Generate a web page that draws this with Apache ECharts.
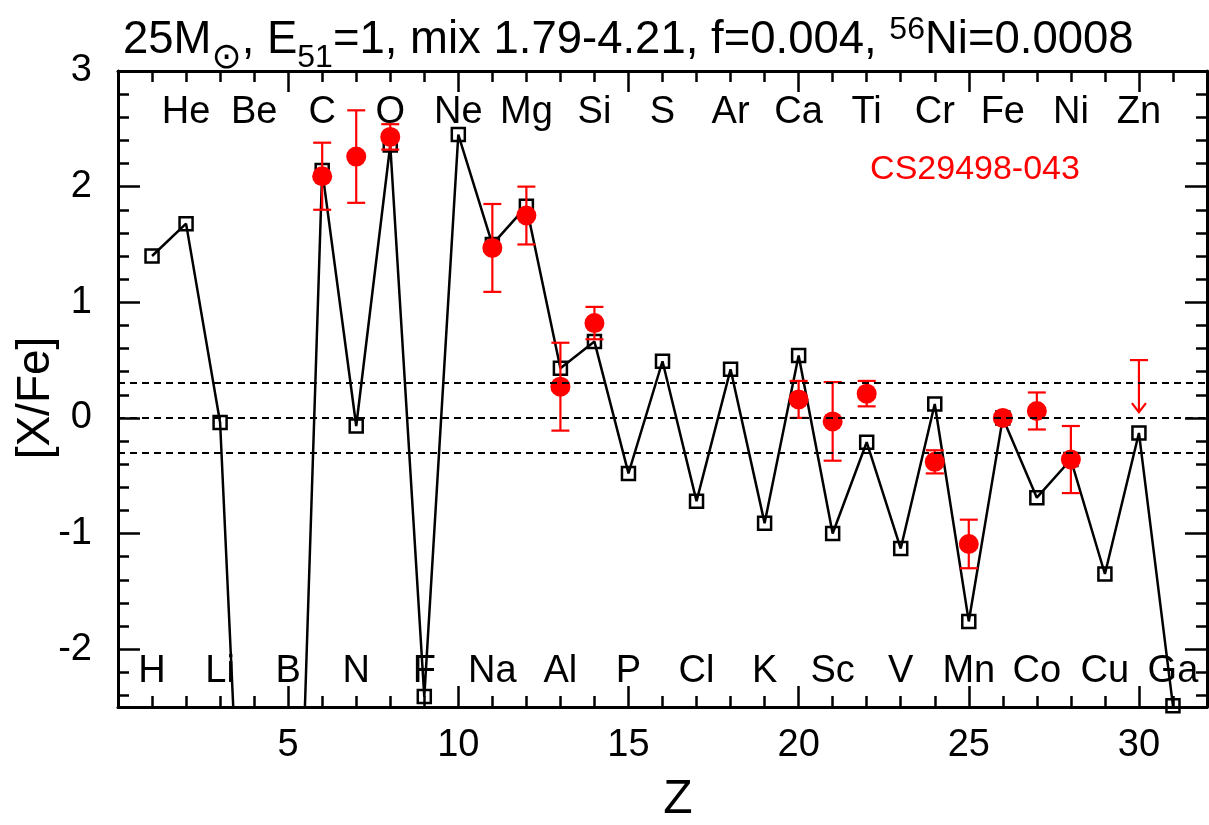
<!DOCTYPE html>
<html>
<head>
<meta charset="utf-8">
<script src="https://cdn.jsdelivr.net/npm/echarts@6/dist/echarts.min.js"></script>
<style>
html,body{margin:0;padding:0;background:#fff;}
#chart{width:1209px;height:825px;}
</style>
</head>
<body>
<div id="chart"></div>
<script>
// ---------- data ----------
const elements = ['H','He','Li','Be','B','C','N','O','F','Ne','Na','Mg','Al','Si','P','S','Cl','Ar','K','Ca','Sc','Ti','V','Cr','Mn','Fe','Co','Ni','Cu','Zn','Ga'];
const modelZ = [1,2,3,4,5,6,7,8,9,10,11,12,13,14,15,16,17,18,19,20,21,22,23,24,25,26,27,28,29,30,31];
const modelXFe = [1.40,1.68,-0.04,-6.4,-7.0,2.14,-0.07,2.36,-2.41,2.45,1.50,1.83,0.43,0.66,-0.48,0.49,-0.72,0.42,-0.91,0.54,-1.00,-0.21,-1.13,0.12,-1.76,0.00,-0.69,-0.36,-1.35,-0.13,-2.49];

const obsZ   = [6,7,8,11,12,13,14,20,21,22,24,25,26,27,28];
const obsXFe = [2.09,2.26,2.43,1.47,1.75,0.27,0.82,0.16,-0.03,0.21,-0.38,-1.09,0.00,0.06,-0.36];
const obsErr = [0.29,0.40,0.11,0.38,0.25,0.38,0.14,0.16,0.34,0.11,0.10,0.21,0.00,0.16,0.29];

const limitZ = [30];
const limitXFe = [0.50];
const limitArrowTo = [0.05];

const dashLevels = [0.3, 0, -0.3];

const xTickLabels = [5,10,15,20,25,30];
const yTickLabels = [-2,-1,0,1,2,3];

const starName = 'CS29498-043';

// ---------- build ----------
const FONT = '"Liberation Sans", Arial, Helvetica, sans-serif';
const xMajor = [0,5,10,15,20,25,30];
const xMinor = []; for (let i = 1; i < 32; i++) if (i % 5) xMinor.push(i);
const yMinor = []; for (let i = -12; i <= 15; i++) if (i % 5) yMinor.push(+(i*0.2).toFixed(1));

const modelData = modelZ.map((z,i)=>[z, modelXFe[i]]);
const obsData = obsZ.map((z,i)=>[z, obsXFe[i]]);
const errData = obsZ.map((z,i)=>[z, obsXFe[i]-obsErr[i], obsXFe[i]+obsErr[i]]).filter((d,i)=>obsErr[i]>0);
const limData = limitZ.map((z,i)=>[z, limitArrowTo[i], limitXFe[i]]);

const LABEL_TOP_Y = 2.645, LABEL_BOT_Y = -2.196;
const elemData = elements.map((e,i)=>({name:e, value:[i+1, (i+1)%2===0 ? LABEL_TOP_Y : LABEL_BOT_Y]}));

function xAx(pos, major, withLabel, withLine){
  return {
    type:'value', position:pos, min:0, max:32,
    axisLine:{show:withLine, onZero:false, lineStyle:{color:'#000', width:3}},
    axisTick:{show:true, inside:true, length: major?21:11, lineStyle:{color:'#000', width:2.5}, customValues: major? xMajor : xMinor},
    axisLabel: withLabel ? {show:true, customValues:xTickLabels, fontSize:38, color:'#000', fontFamily:FONT, margin:20} : {show:false},
    splitLine:{show:false}
  };
}
function yAx(pos, major, withLabel, withLine){
  return {
    type:'value', position:pos, min:-2.5, max:3,
    axisLine:{show:withLine, onZero:false, lineStyle:{color:'#000', width:3}},
    axisTick:{show:true, inside:true, length: major?22:11, lineStyle:{color:'#000', width:2.5}, customValues: major? yTickLabels : yMinor},
    axisLabel: withLabel ? {show:true, customValues:yTickLabels, fontSize:38, color:'#000', fontFamily:FONT, margin:26} : {show:false},
    splitLine:{show:false}
  };
}

function errItem(params, api){
  const x = api.value(0), lo = api.value(1), hi = api.value(2);
  const a = api.coord([x, lo]), b = api.coord([x, hi]);
  const hw = 9, st = {stroke:'#ff0000', lineWidth:2.2};
  return {type:'group', children:[
    {type:'line', shape:{x1:a[0],y1:a[1],x2:b[0],y2:b[1]}, style:st},
    {type:'line', shape:{x1:a[0]-hw,y1:a[1],x2:a[0]+hw,y2:a[1]}, style:st},
    {type:'line', shape:{x1:b[0]-hw,y1:b[1],x2:b[0]+hw,y2:b[1]}, style:st}
  ]};
}
function limItem(params, api){
  const x = api.value(0), lo = api.value(1), hi = api.value(2);
  const a = api.coord([x, lo]), b = api.coord([x, hi]);
  const hw = 9, st = {stroke:'#ff0000', lineWidth:2.2, fill:null};
  return {type:'group', children:[
    {type:'line', shape:{x1:a[0],y1:a[1],x2:b[0],y2:b[1]}, style:st},
    {type:'line', shape:{x1:b[0]-hw,y1:b[1],x2:b[0]+hw,y2:b[1]}, style:st},
    {type:'polyline', shape:{points:[[a[0]-7,a[1]-9],[a[0],a[1]],[a[0]+7,a[1]-9]]}, style:st}
  ]};
}

const chart = echarts.init(document.getElementById('chart'), null, {renderer:'canvas'});
chart.setOption({
  animation:false,
  backgroundColor:'#fff',
  textStyle:{fontFamily:FONT},
  title:{
    left:118, top:12,
    text:'{a|25M}{sun|⊙}{a|, E}{sub|51}{a|=1, mix 1.79-4.21, f=0.004, }{sup|56}{a|Ni=0.0008}',
    textStyle:{
      fontWeight:'normal',
      rich:{
        a:{fontSize:45.5, fontFamily:FONT, fontWeight:'normal', color:'#000', lineHeight:46},
        sub:{fontSize:32, fontFamily:FONT, fontWeight:'normal', color:'#000', lineHeight:31, padding:[36,0,0,0]},
        sun:{fontSize:36, fontFamily:'"DejaVu Sans", sans-serif', fontWeight:'normal', color:'#000', lineHeight:32, padding:[38,0,0,0]},
        sup:{fontSize:32, fontFamily:FONT, fontWeight:'normal', color:'#000', lineHeight:31, padding:[0,0,20,0]}
      }
    }
  },
  grid:{left:118, right:2, top:71, bottom:118, containLabel:false},
  xAxis:[ xAx('bottom',true,true,true), xAx('bottom',false,false,false), xAx('top',true,false,true), xAx('top',false,false,false) ],
  yAxis:[ yAx('left',true,true,true), yAx('left',false,false,false), yAx('right',true,false,true), yAx('right',false,false,false) ],
  graphic:[
    {type:'text', x:36, y:398, rotation:Math.PI/2, style:{text:'[X/Fe]', fontSize:46, fontFamily:FONT, fill:'#000', align:'center', verticalAlign:'middle'}},
    {type:'text', x:678, y:800, style:{text:'Z', fontSize:48, fontFamily:FONT, fill:'#000', align:'center', verticalAlign:'middle'}},
    {type:'text', x:975, y:170, style:{text:starName, fontSize:34, fontFamily:FONT, fill:'#ff0000', align:'center', verticalAlign:'middle'}}
  ],
  series:[
    {
      type:'line', data:modelData, z:2, clip:true, showAllSymbol:true,
      symbol:'rect', symbolSize:13,
      itemStyle:{color:'rgba(0,0,0,0)', borderColor:'#000', borderWidth:2.5},
      lineStyle:{color:'#000', width:2.5},
      markLine:{
        silent:true, symbol:'none', label:{show:false},
        lineStyle:{color:'#000', width:2, type:[7,5]},
        data: dashLevels.map(v=>({yAxis:v}))
      }
    },
    {type:'custom', renderItem:errItem, data:errData, z:3, clip:true, encode:{x:0, y:[1,2]}},
    {type:'custom', renderItem:limItem, data:limData, z:3, clip:true, encode:{x:0, y:[1,2]}},
    {type:'scatter', data:obsData, symbol:'circle', symbolSize:20, itemStyle:{color:'#ff0000', opacity:1}, z:4},
    {
      type:'scatter', data:elemData, symbol:'circle', symbolSize:1, itemStyle:{color:'rgba(0,0,0,0)', opacity:1}, z:5, silent:true,
      label:{show:true, position:'inside', formatter:p=>p.name, fontSize:38, fontFamily:FONT, color:'#000', opacity:1}
    }
  ]
});
</script>
</body>
</html>
